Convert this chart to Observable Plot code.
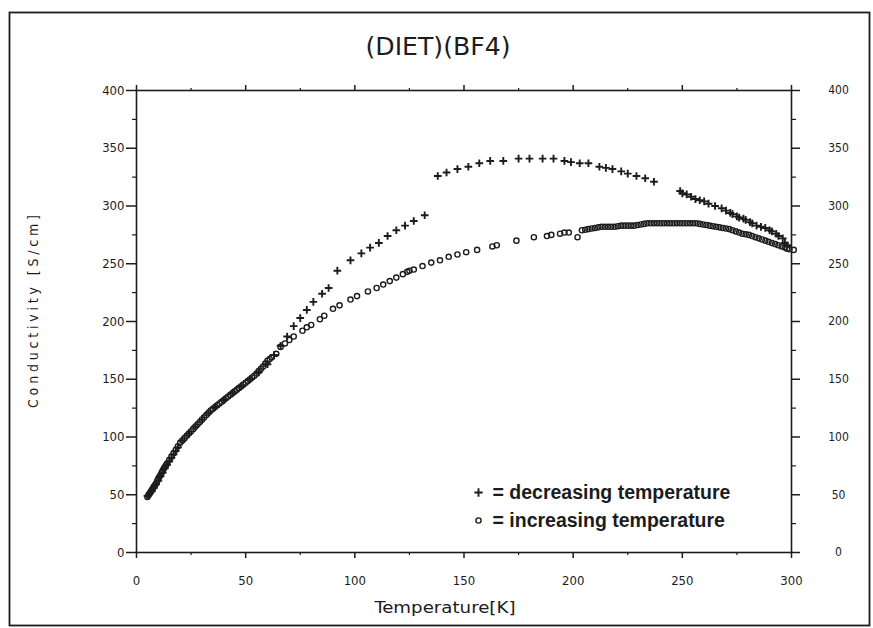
<!DOCTYPE html>
<html>
<head>
<meta charset="utf-8">
<script src="https://cdn.jsdelivr.net/npm/d3@7"></script>
<script src="https://cdn.jsdelivr.net/npm/@observablehq/plot@0.6"></script>
<style>
  html, body { margin: 0; padding: 0; background: #fff; }
  #chart svg { display: block; }
</style>
</head>
<body>
<div id="chart"></div>
<script>
const title = "(DIET)(BF4)";
const xLabel = "Temperature[K]";
const yLabel = "Conductivity [S/cm]";
const legendDec = "= decreasing temperature";
const legendInc = "= increasing temperature";

const xMajor = [0, 50, 100, 150, 200, 250, 300];
const xMinor = [25, 75, 125, 175, 225, 275];
const yMajor = [0, 50, 100, 150, 200, 250, 300, 350, 400];
const yMinor = [25, 75, 125, 175, 225, 275, 325, 375];

// increasing temperature (open circles)
const incT = [5, 5.5, 6, 6.5, 7, 7.5, 8, 8.5, 9, 9.5, 10, 10.5, 11, 11.5, 12, 12.5, 13, 13.5, 14, 15, 16, 17, 18, 19, 20, 21, 22, 23, 24, 25, 26, 27, 28, 29, 30, 31, 32, 33, 34, 35, 36, 37, 38, 39, 40, 41, 42, 43, 44, 45, 46, 47, 48, 49, 50, 51, 52, 53, 54, 55, 56, 57, 58, 59, 60, 61, 62, 64, 66, 68, 70, 72, 76, 78, 80, 84, 86, 90, 93, 98, 101, 106, 110, 113, 116, 119, 122, 124, 125, 127, 131, 135, 139, 143, 147, 151, 156, 163, 165, 174, 182, 188, 190, 194, 196, 198, 202, 204, 205.5, 207, 208.5, 210, 211.5, 213, 214.5, 216, 217.5, 219, 220.5, 222, 223.5, 225, 226.5, 228, 229.5, 231, 232.5, 234, 235.5, 237, 238.5, 240, 241.5, 243, 244.5, 246, 247.5, 249, 250.5, 252, 253.5, 255, 256.5, 258, 259.5, 261, 262.5, 264, 265.5, 267, 268.5, 270, 271.5, 273, 274.5, 276, 277.5, 279, 280.5, 282, 283.5, 285, 286.5, 288, 289.5, 291, 292.5, 294, 295.5, 297, 298, 299, 301];
const incS = [48, 49.5, 51, 52.5, 54, 55.5, 57, 58.5, 60, 62, 64, 65.5, 67, 69, 71, 72.5, 74, 75.5, 77, 80, 83, 86, 89, 92, 95, 97, 99, 101, 103, 105, 107, 109, 111, 113, 115, 117, 119, 121, 123, 124.5, 126, 127.5, 129, 130.5, 132, 133.5, 135, 136.5, 138, 139.5, 141, 142.5, 144, 145.5, 147, 148.5, 150, 151.5, 153, 155, 157, 159, 161, 163.5, 166, 167.5, 169, 172, 178, 181, 184, 187, 192, 195, 197, 202, 205, 211, 214, 219, 222, 226, 229, 232, 235, 238, 241, 243, 244, 245, 248, 251, 253, 256, 258, 260, 262, 265, 266, 270, 273, 274, 275, 276, 277, 277, 273, 279, 279.5, 280, 280.5, 281, 281.5, 282, 282, 282, 282, 282, 282.5, 283, 283, 283, 283, 283, 283.5, 284, 284.5, 285, 285, 285, 285, 285, 285, 285, 285, 285, 285, 285, 285, 285, 285, 285, 285, 284.5, 284, 283.5, 283, 282.5, 282, 281.5, 281, 280.5, 280, 279, 278, 277, 276, 275.5, 275, 274, 273, 272, 271, 270, 269, 268, 267, 266, 265, 264, 263, 262.5, 262, 262];

// decreasing temperature (plus signs)
const decT = [5, 6, 7, 8, 9, 10, 11, 12, 13, 14, 15, 16, 17, 18, 19, 21, 24, 27, 30, 33, 36, 40, 44, 48, 52, 56, 60, 63, 66, 69, 72, 75, 78, 81, 85, 88, 92, 98, 103, 107, 111, 115, 119, 123, 127, 132, 138, 142, 147, 152, 157, 162, 168, 175, 180, 186, 191, 196, 199, 203, 207, 212, 215, 218, 222, 225, 229, 233, 237, 249, 250, 252, 254, 256, 258, 260, 262, 265, 268, 270, 272, 273, 275, 276, 278, 279, 281, 282, 284, 286, 288, 290, 291, 293, 294, 296, 297, 298];
const decS = [49, 51, 53, 56, 59, 62, 66, 69, 73, 76, 79, 82, 85, 88, 91, 97, 103, 109, 115, 121, 126, 132, 138, 144, 150, 156, 163, 171, 179, 187, 196, 203, 210, 217, 224, 229, 244, 253, 259, 264, 268, 274, 279, 283, 287, 292, 326, 329, 332, 334, 337, 339, 339, 341, 341, 341, 341, 339, 338, 337, 337, 334, 333, 332, 330, 328, 326, 324, 321, 313, 311, 310, 308, 306, 305, 304, 302, 300, 298, 296, 294, 293, 291, 290, 289, 288, 286, 285, 283, 282, 281, 279, 278, 276, 274, 272, 268, 266];

const inc = incT.map((T, i) => ({T, s: incS[i]}));
const dec = decT.map((T, i) => ({T, s: decS[i]}));

const ink = "#1c1c1c";
const tickFont = "DejaVu Sans Condensed, DejaVu Sans, sans-serif";
const blank = () => "";

const chart = Plot.plot({
  width: 873,
  height: 628,
  marginLeft: 136,
  marginRight: 82,
  marginTop: 90,
  marginBottom: 76,
  style: {background: "#fff", color: ink, fontFamily: tickFont},
  x: {domain: [0, 300]},
  y: {domain: [0, 400]},
  marks: [
    Plot.frame({stroke: ink, strokeWidth: 1.6}),
    Plot.frame({stroke: ink, strokeWidth: 1.8, insetLeft: -127, insetTop: -78, insetRight: -78, insetBottom: -73}),
    Plot.axisX(xMajor, {anchor: "bottom", tickSize: 6, tickPadding: 17, fontSize: 13, label: null, strokeWidth: 1.5}),
    Plot.axisX(xMinor, {anchor: "bottom", tickSize: 3, tickFormat: blank, label: null, strokeWidth: 1.2}),
    Plot.axisX(xMajor, {anchor: "top", tickSize: 6, tickFormat: blank, label: null, strokeWidth: 1.5}),
    Plot.axisX(xMinor, {anchor: "top", tickSize: 3, tickFormat: blank, label: null, strokeWidth: 1.2}),
    Plot.axisY(yMajor, {anchor: "left", tickSize: 10, tickPadding: 2, fontSize: 13, label: null, strokeWidth: 1.5}),
    Plot.axisY(yMinor, {anchor: "left", tickSize: 4, tickFormat: blank, label: null, strokeWidth: 1.2}),
    Plot.axisY(yMajor, {anchor: "right", tickSize: 8, tickPadding: 39, textAnchor: "middle", fontSize: 12, label: null, strokeWidth: 1.5}),
    Plot.axisY(yMinor, {anchor: "right", tickSize: 4, tickFormat: blank, label: null, strokeWidth: 1.2}),
    Plot.dot(inc, {x: "T", y: "s", r: 2.6, stroke: ink, strokeWidth: 1.4, fill: "none"}),
    Plot.dot(dec, {x: "T", y: "s", symbol: "plus", r: 2.6, stroke: ink, strokeWidth: 1.9}),
    Plot.text([title], {frameAnchor: "top", dx: -26, dy: -43, lineAnchor: "middle", fontSize: 24, fill: ink}),
    Plot.text([xLabel], {frameAnchor: "bottom", dx: -19, dy: 56, lineAnchor: "middle", fontSize: 15, fill: ink}),
    Plot.text([yLabel], {frameAnchor: "left", dx: -103, dy: -10, rotate: -90, lineAnchor: "middle", textAnchor: "middle", fontSize: 14, fill: ink}),
    Plot.dot([legendDec], {frameAnchor: "bottom-left", dx: 342, dy: -60, symbol: "plus", r: 2.8, stroke: ink, strokeWidth: 1.9}),
    Plot.dot([legendInc], {frameAnchor: "bottom-left", dx: 342, dy: -32, r: 2.6, stroke: ink, strokeWidth: 1.4, fill: "none"}),
    Plot.text([legendDec], {frameAnchor: "bottom-left", dx: 356, dy: -60, textAnchor: "start", lineAnchor: "middle", fontSize: 19.5, fontWeight: "bold", fontFamily: "Liberation Sans, Arial, sans-serif", fill: ink}),
    Plot.text([legendInc], {frameAnchor: "bottom-left", dx: 356, dy: -32, textAnchor: "start", lineAnchor: "middle", fontSize: 19.5, fontWeight: "bold", fontFamily: "Liberation Sans, Arial, sans-serif", fill: ink})
  ]
});

document.getElementById("chart").appendChild(chart);

// fit the axis titles to the widths they have in the original
d3.select(chart).selectAll("text").each(function () {
  const t = this.textContent;
  if (t === yLabel) d3.select(this).attr("textLength", 193).attr("lengthAdjust", "spacing");
  if (t === title) d3.select(this).attr("textLength", 145).attr("lengthAdjust", "spacingAndGlyphs");
  if (t === xLabel) d3.select(this).attr("textLength", 141).attr("lengthAdjust", "spacingAndGlyphs");
});
</script>
</body>
</html>
